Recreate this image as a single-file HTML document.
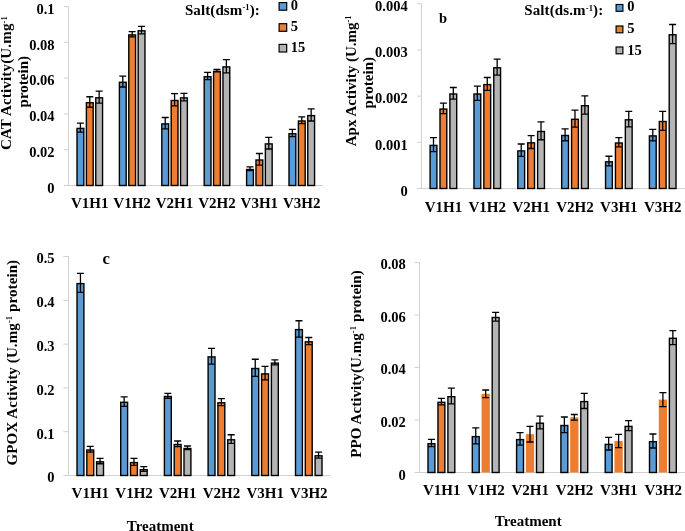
<!DOCTYPE html>
<html><head><meta charset="utf-8"><style>
html,body{margin:0;padding:0;background:#fff;}
body{width:685px;height:531px;overflow:hidden;}
svg{display:block;will-change:transform;}
.t{font-family:'Liberation Serif', serif;font-weight:bold;font-size:14.5px;fill:#000;}
.x{font-family:'Liberation Serif', serif;font-weight:bold;font-size:15px;fill:#000;}
.h{font-family:'Liberation Serif', serif;font-weight:bold;font-size:15px;fill:#000;}
</style></head><body>
<svg width="685" height="531" viewBox="0 0 685 531">
<rect width="685" height="531" fill="#fff"/>
<path d="M68.5 6.5V185.5M64 185.5H323" stroke="#d0d0d0" stroke-width="1" fill="none"/>
<path d="M64 149.7H68.5M64 113.9H68.5M64 78.1H68.5M64 42.3H68.5M64 6.5H68.5" stroke="#d0d0d0" stroke-width="1" fill="none"/>
<text x="54.5" y="192.8" text-anchor="end" class="t">0</text>
<text x="54.5" y="157" text-anchor="end" class="t">0.02</text>
<text x="54.5" y="121.2" text-anchor="end" class="t">0.04</text>
<text x="54.5" y="85.4" text-anchor="end" class="t">0.06</text>
<text x="54.5" y="49.6" text-anchor="end" class="t">0.08</text>
<text x="54.5" y="13.8" text-anchor="end" class="t">0.1</text>
<rect x="77" y="128.4" width="6.8" height="57.1" fill="#5b9bd5" stroke="#000" stroke-width="1.4"/>
<path d="M80.4 123.2V132.2M76.9 123.2H83.9M76.9 132.2H83.9" stroke="#000" stroke-width="1.3" fill="none"/>
<rect x="86.38" y="102.7" width="6.8" height="82.8" fill="#ed7d31" stroke="#000" stroke-width="1.4"/>
<path d="M89.78 96.75V107.25M86.28 96.75H93.28M86.28 107.25H93.28" stroke="#000" stroke-width="1.3" fill="none"/>
<rect x="95.76" y="97.8" width="6.8" height="87.7" fill="#b4b4b4" stroke="#000" stroke-width="1.4"/>
<path d="M99.16 91.1V103.1M95.66 91.1H102.66M95.66 103.1H102.66" stroke="#000" stroke-width="1.3" fill="none"/>
<rect x="119.4" y="82.3" width="6.8" height="103.2" fill="#5b9bd5" stroke="#000" stroke-width="1.4"/>
<path d="M122.8 76.2V87M119.3 76.2H126.3M119.3 87H126.3" stroke="#000" stroke-width="1.3" fill="none"/>
<rect x="128.78" y="34.9" width="6.8" height="150.6" fill="#ed7d31" stroke="#000" stroke-width="1.4"/>
<path d="M132.18 31.55V36.85M128.68 31.55H135.68M128.68 36.85H135.68" stroke="#000" stroke-width="1.3" fill="none"/>
<rect x="138.16" y="30.8" width="6.8" height="154.7" fill="#b4b4b4" stroke="#000" stroke-width="1.4"/>
<path d="M141.56 26.3V33.9M138.06 26.3H145.06M138.06 33.9H145.06" stroke="#000" stroke-width="1.3" fill="none"/>
<rect x="161.8" y="123.9" width="6.8" height="61.6" fill="#5b9bd5" stroke="#000" stroke-width="1.4"/>
<path d="M165.2 117.5V128.9M161.7 117.5H168.7M161.7 128.9H168.7" stroke="#000" stroke-width="1.3" fill="none"/>
<rect x="171.18" y="100.5" width="6.8" height="85" fill="#ed7d31" stroke="#000" stroke-width="1.4"/>
<path d="M174.58 93.7V105.9M171.08 93.7H178.08M171.08 105.9H178.08" stroke="#000" stroke-width="1.3" fill="none"/>
<rect x="180.56" y="97.9" width="6.8" height="87.6" fill="#b4b4b4" stroke="#000" stroke-width="1.4"/>
<path d="M183.96 93.45V100.95M180.46 93.45H187.46M180.46 100.95H187.46" stroke="#000" stroke-width="1.3" fill="none"/>
<rect x="204.2" y="76.7" width="6.8" height="108.8" fill="#5b9bd5" stroke="#000" stroke-width="1.4"/>
<path d="M207.6 72.45V79.55M204.1 72.45H211.1M204.1 79.55H211.1" stroke="#000" stroke-width="1.3" fill="none"/>
<rect x="213.58" y="71.3" width="6.8" height="114.2" fill="#ed7d31" stroke="#000" stroke-width="1.4"/>
<path d="M216.98 69.35V71.85M213.48 69.35H220.48M213.48 71.85H220.48" stroke="#000" stroke-width="1.3" fill="none"/>
<rect x="222.96" y="66.9" width="6.8" height="118.6" fill="#b4b4b4" stroke="#000" stroke-width="1.4"/>
<path d="M226.36 59.6V72.8M222.86 59.6H229.86M222.86 72.8H229.86" stroke="#000" stroke-width="1.3" fill="none"/>
<rect x="246.6" y="169.5" width="6.8" height="16" fill="#5b9bd5" stroke="#000" stroke-width="1.4"/>
<path d="M250 166.95V170.65M246.5 166.95H253.5M246.5 170.65H253.5" stroke="#000" stroke-width="1.3" fill="none"/>
<rect x="255.98" y="160" width="6.8" height="25.5" fill="#ed7d31" stroke="#000" stroke-width="1.4"/>
<path d="M259.38 153.5V165.1M255.88 153.5H262.88M255.88 165.1H262.88" stroke="#000" stroke-width="1.3" fill="none"/>
<rect x="265.36" y="143.9" width="6.8" height="41.6" fill="#b4b4b4" stroke="#000" stroke-width="1.4"/>
<path d="M268.76 137.4V149M265.26 137.4H272.26M265.26 149H272.26" stroke="#000" stroke-width="1.3" fill="none"/>
<rect x="289" y="133.7" width="6.8" height="51.8" fill="#5b9bd5" stroke="#000" stroke-width="1.4"/>
<path d="M292.4 129.45V136.55M288.9 129.45H295.9M288.9 136.55H295.9" stroke="#000" stroke-width="1.3" fill="none"/>
<rect x="298.38" y="121" width="6.8" height="64.5" fill="#ed7d31" stroke="#000" stroke-width="1.4"/>
<path d="M301.78 116.95V123.65M298.28 116.95H305.28M298.28 123.65H305.28" stroke="#000" stroke-width="1.3" fill="none"/>
<rect x="307.76" y="115.6" width="6.8" height="69.9" fill="#b4b4b4" stroke="#000" stroke-width="1.4"/>
<path d="M311.16 108.8V121M307.66 108.8H314.66M307.66 121H314.66" stroke="#000" stroke-width="1.3" fill="none"/>
<text x="89.7" y="208.4" text-anchor="middle" class="x">V1H1</text>
<text x="132.1" y="208.4" text-anchor="middle" class="x">V1H2</text>
<text x="174.5" y="208.4" text-anchor="middle" class="x">V2H1</text>
<text x="216.9" y="208.4" text-anchor="middle" class="x">V2H2</text>
<text x="259.3" y="208.4" text-anchor="middle" class="x">V3H1</text>
<text x="301.7" y="208.4" text-anchor="middle" class="x">V3H2</text>
<path d="M421.5 3.7V188.5M417 188.5H685" stroke="#d0d0d0" stroke-width="1" fill="none"/>
<path d="M417 142.3H421.5M417 96.1H421.5M417 49.9H421.5M417 3.7H421.5" stroke="#d0d0d0" stroke-width="1" fill="none"/>
<text x="407.7" y="195.8" text-anchor="end" class="t">0</text>
<text x="407.7" y="149.6" text-anchor="end" class="t">0.001</text>
<text x="407.7" y="103.4" text-anchor="end" class="t">0.002</text>
<text x="407.7" y="57.2" text-anchor="end" class="t">0.003</text>
<text x="407.7" y="11" text-anchor="end" class="t">0.004</text>
<rect x="430.1" y="145.4" width="6.8" height="43.1" fill="#5b9bd5" stroke="#000" stroke-width="1.4"/>
<path d="M433.5 137.7V151.7M430 137.7H437M430 151.7H437" stroke="#000" stroke-width="1.3" fill="none"/>
<rect x="440" y="109.1" width="6.8" height="79.4" fill="#ed7d31" stroke="#000" stroke-width="1.4"/>
<path d="M443.4 103.1V113.7M439.9 103.1H446.9M439.9 113.7H446.9" stroke="#000" stroke-width="1.3" fill="none"/>
<rect x="449.9" y="94" width="6.8" height="94.5" fill="#b4b4b4" stroke="#000" stroke-width="1.4"/>
<path d="M453.3 87.5V99.1M449.8 87.5H456.8M449.8 99.1H456.8" stroke="#000" stroke-width="1.3" fill="none"/>
<rect x="473.96" y="94" width="6.8" height="94.5" fill="#5b9bd5" stroke="#000" stroke-width="1.4"/>
<path d="M477.36 86.15V100.45M473.86 86.15H480.86M473.86 100.45H480.86" stroke="#000" stroke-width="1.3" fill="none"/>
<rect x="483.86" y="84.6" width="6.8" height="103.9" fill="#ed7d31" stroke="#000" stroke-width="1.4"/>
<path d="M487.26 77.5V90.3M483.76 77.5H490.76M483.76 90.3H490.76" stroke="#000" stroke-width="1.3" fill="none"/>
<rect x="493.76" y="67.8" width="6.8" height="120.7" fill="#b4b4b4" stroke="#000" stroke-width="1.4"/>
<path d="M497.16 59.15V75.05M493.66 59.15H500.66M493.66 75.05H500.66" stroke="#000" stroke-width="1.3" fill="none"/>
<rect x="517.82" y="150.9" width="6.8" height="37.6" fill="#5b9bd5" stroke="#000" stroke-width="1.4"/>
<path d="M521.22 144V156.4M517.72 144H524.72M517.72 156.4H524.72" stroke="#000" stroke-width="1.3" fill="none"/>
<rect x="527.72" y="142.8" width="6.8" height="45.7" fill="#ed7d31" stroke="#000" stroke-width="1.4"/>
<path d="M531.12 135.7V148.5M527.62 135.7H534.62M527.62 148.5H534.62" stroke="#000" stroke-width="1.3" fill="none"/>
<rect x="537.62" y="131.5" width="6.8" height="57" fill="#b4b4b4" stroke="#000" stroke-width="1.4"/>
<path d="M541.02 121.85V139.75M537.52 121.85H544.52M537.52 139.75H544.52" stroke="#000" stroke-width="1.3" fill="none"/>
<rect x="561.68" y="135.5" width="6.8" height="53" fill="#5b9bd5" stroke="#000" stroke-width="1.4"/>
<path d="M565.08 128.85V140.75M561.58 128.85H568.58M561.58 140.75H568.58" stroke="#000" stroke-width="1.3" fill="none"/>
<rect x="571.58" y="119.3" width="6.8" height="69.2" fill="#ed7d31" stroke="#000" stroke-width="1.4"/>
<path d="M574.98 110.1V127.1M571.48 110.1H578.48M571.48 127.1H578.48" stroke="#000" stroke-width="1.3" fill="none"/>
<rect x="581.48" y="105.7" width="6.8" height="82.8" fill="#b4b4b4" stroke="#000" stroke-width="1.4"/>
<path d="M584.88 95.8V114.2M581.38 95.8H588.38M581.38 114.2H588.38" stroke="#000" stroke-width="1.3" fill="none"/>
<rect x="605.54" y="161.8" width="6.8" height="26.7" fill="#5b9bd5" stroke="#000" stroke-width="1.4"/>
<path d="M608.94 156.25V165.95M605.44 156.25H612.44M605.44 165.95H612.44" stroke="#000" stroke-width="1.3" fill="none"/>
<rect x="615.44" y="143" width="6.8" height="45.5" fill="#ed7d31" stroke="#000" stroke-width="1.4"/>
<path d="M618.84 137.65V146.95M615.34 137.65H622.34M615.34 146.95H622.34" stroke="#000" stroke-width="1.3" fill="none"/>
<rect x="625.34" y="119.8" width="6.8" height="68.7" fill="#b4b4b4" stroke="#000" stroke-width="1.4"/>
<path d="M628.74 111.3V126.9M625.24 111.3H632.24M625.24 126.9H632.24" stroke="#000" stroke-width="1.3" fill="none"/>
<rect x="649.4" y="135.9" width="6.8" height="52.6" fill="#5b9bd5" stroke="#000" stroke-width="1.4"/>
<path d="M652.8 129.45V140.95M649.3 129.45H656.3M649.3 140.95H656.3" stroke="#000" stroke-width="1.3" fill="none"/>
<rect x="659.3" y="121.5" width="6.8" height="67" fill="#ed7d31" stroke="#000" stroke-width="1.4"/>
<path d="M662.7 111.3V130.3M659.2 111.3H666.2M659.2 130.3H666.2" stroke="#000" stroke-width="1.3" fill="none"/>
<rect x="669.2" y="34.8" width="6.8" height="153.7" fill="#b4b4b4" stroke="#000" stroke-width="1.4"/>
<path d="M672.6 24.5V43.7M669.1 24.5H676.1M669.1 43.7H676.1" stroke="#000" stroke-width="1.3" fill="none"/>
<text x="443.43" y="211.8" text-anchor="middle" class="x">V1H1</text>
<text x="487.29" y="211.8" text-anchor="middle" class="x">V1H2</text>
<text x="531.15" y="211.8" text-anchor="middle" class="x">V2H1</text>
<text x="575.01" y="211.8" text-anchor="middle" class="x">V2H2</text>
<text x="618.87" y="211.8" text-anchor="middle" class="x">V3H1</text>
<text x="662.73" y="211.8" text-anchor="middle" class="x">V3H2</text>
<path d="M68.5 256.5V475.5M63.3 475.5H330.5" stroke="#d0d0d0" stroke-width="1" fill="none"/>
<path d="M63.3 431.7H68.5M63.3 387.9H68.5M63.3 344.1H68.5M63.3 300.3H68.5M63.3 256.5H68.5" stroke="#d0d0d0" stroke-width="1" fill="none"/>
<text x="54.5" y="482.3" text-anchor="end" class="t">0</text>
<text x="54.5" y="438.5" text-anchor="end" class="t">0.1</text>
<text x="54.5" y="394.7" text-anchor="end" class="t">0.2</text>
<text x="54.5" y="350.9" text-anchor="end" class="t">0.3</text>
<text x="54.5" y="307.1" text-anchor="end" class="t">0.4</text>
<text x="54.5" y="263.3" text-anchor="end" class="t">0.5</text>
<rect x="77" y="283.6" width="6.9" height="191.9" fill="#5b9bd5" stroke="#000" stroke-width="1.4"/>
<path d="M80.45 273.4V292.4M76.95 273.4H83.95M76.95 292.4H83.95" stroke="#000" stroke-width="1.3" fill="none"/>
<rect x="86.8" y="450" width="6.9" height="25.5" fill="#ed7d31" stroke="#000" stroke-width="1.4"/>
<path d="M90.25 446.45V452.15M86.75 446.45H93.75M86.75 452.15H93.75" stroke="#000" stroke-width="1.3" fill="none"/>
<rect x="96.6" y="461.8" width="6.9" height="13.7" fill="#b4b4b4" stroke="#000" stroke-width="1.4"/>
<path d="M100.05 458.45V463.75M96.55 458.45H103.55M96.55 463.75H103.55" stroke="#000" stroke-width="1.3" fill="none"/>
<rect x="120.7" y="402.3" width="6.9" height="73.2" fill="#5b9bd5" stroke="#000" stroke-width="1.4"/>
<path d="M124.15 396.9V406.3M120.65 396.9H127.65M120.65 406.3H127.65" stroke="#000" stroke-width="1.3" fill="none"/>
<rect x="130.5" y="462.6" width="6.9" height="12.9" fill="#ed7d31" stroke="#000" stroke-width="1.4"/>
<path d="M133.95 458.4V465.4M130.45 458.4H137.45M130.45 465.4H137.45" stroke="#000" stroke-width="1.3" fill="none"/>
<rect x="140.3" y="469.7" width="6.9" height="5.8" fill="#b4b4b4" stroke="#000" stroke-width="1.4"/>
<path d="M143.75 466.65V471.35M140.25 466.65H147.25M140.25 471.35H147.25" stroke="#000" stroke-width="1.3" fill="none"/>
<rect x="164.4" y="396.5" width="6.9" height="79" fill="#5b9bd5" stroke="#000" stroke-width="1.4"/>
<path d="M167.85 393.3V398.3M164.35 393.3H171.35M164.35 398.3H171.35" stroke="#000" stroke-width="1.3" fill="none"/>
<rect x="174.2" y="444.5" width="6.9" height="31" fill="#ed7d31" stroke="#000" stroke-width="1.4"/>
<path d="M177.65 441V446.6M174.15 441H181.15M174.15 446.6H181.15" stroke="#000" stroke-width="1.3" fill="none"/>
<rect x="184" y="448.5" width="6.9" height="27" fill="#b4b4b4" stroke="#000" stroke-width="1.4"/>
<path d="M187.45 446V449.6M183.95 446H190.95M183.95 449.6H190.95" stroke="#000" stroke-width="1.3" fill="none"/>
<rect x="208.1" y="356.9" width="6.9" height="118.6" fill="#5b9bd5" stroke="#000" stroke-width="1.4"/>
<path d="M211.55 348.3V364.1M208.05 348.3H215.05M208.05 364.1H215.05" stroke="#000" stroke-width="1.3" fill="none"/>
<rect x="217.9" y="402.8" width="6.9" height="72.7" fill="#ed7d31" stroke="#000" stroke-width="1.4"/>
<path d="M221.35 398.55V405.65M217.85 398.55H224.85M217.85 405.65H224.85" stroke="#000" stroke-width="1.3" fill="none"/>
<rect x="227.7" y="439.8" width="6.9" height="35.7" fill="#b4b4b4" stroke="#000" stroke-width="1.4"/>
<path d="M231.15 434.75V443.45M227.65 434.75H234.65M227.65 443.45H234.65" stroke="#000" stroke-width="1.3" fill="none"/>
<rect x="251.8" y="368.5" width="6.9" height="107" fill="#5b9bd5" stroke="#000" stroke-width="1.4"/>
<path d="M255.25 359.25V376.35M251.75 359.25H258.75M251.75 376.35H258.75" stroke="#000" stroke-width="1.3" fill="none"/>
<rect x="261.6" y="373.9" width="6.9" height="101.6" fill="#ed7d31" stroke="#000" stroke-width="1.4"/>
<path d="M265.05 366.45V379.95M261.55 366.45H268.55M261.55 379.95H268.55" stroke="#000" stroke-width="1.3" fill="none"/>
<rect x="271.4" y="363.1" width="6.9" height="112.4" fill="#b4b4b4" stroke="#000" stroke-width="1.4"/>
<path d="M274.85 359.85V364.95M271.35 359.85H278.35M271.35 364.95H278.35" stroke="#000" stroke-width="1.3" fill="none"/>
<rect x="295.5" y="329.6" width="6.9" height="145.9" fill="#5b9bd5" stroke="#000" stroke-width="1.4"/>
<path d="M298.95 320.75V337.05M295.45 320.75H302.45M295.45 337.05H302.45" stroke="#000" stroke-width="1.3" fill="none"/>
<rect x="305.3" y="341.8" width="6.9" height="133.7" fill="#ed7d31" stroke="#000" stroke-width="1.4"/>
<path d="M308.75 337.5V344.7M305.25 337.5H312.25M305.25 344.7H312.25" stroke="#000" stroke-width="1.3" fill="none"/>
<rect x="315.1" y="455.8" width="6.9" height="19.7" fill="#b4b4b4" stroke="#000" stroke-width="1.4"/>
<path d="M318.55 452.05V458.15M315.05 452.05H322.05M315.05 458.15H322.05" stroke="#000" stroke-width="1.3" fill="none"/>
<text x="90.35" y="497.6" text-anchor="middle" class="x">V1H1</text>
<text x="134.05" y="497.6" text-anchor="middle" class="x">V1H2</text>
<text x="177.75" y="497.6" text-anchor="middle" class="x">V2H1</text>
<text x="221.45" y="497.6" text-anchor="middle" class="x">V2H2</text>
<text x="265.15" y="497.6" text-anchor="middle" class="x">V3H1</text>
<text x="308.85" y="497.6" text-anchor="middle" class="x">V3H2</text>
<path d="M419.5 262.4V472.5M414.5 472.5H685" stroke="#d0d0d0" stroke-width="1" fill="none"/>
<path d="M414.5 419.98H419.5M414.5 367.45H419.5M414.5 314.92H419.5M414.5 262.4H419.5" stroke="#d0d0d0" stroke-width="1" fill="none"/>
<text x="405.8" y="479.5" text-anchor="end" class="t">0</text>
<text x="405.8" y="426.98" text-anchor="end" class="t">0.02</text>
<text x="405.8" y="374.45" text-anchor="end" class="t">0.04</text>
<text x="405.8" y="321.92" text-anchor="end" class="t">0.06</text>
<text x="405.8" y="269.4" text-anchor="end" class="t">0.08</text>
<rect x="428" y="443.7" width="6.9" height="28.8" fill="#5b9bd5" stroke="#000" stroke-width="1.4"/>
<path d="M431.45 439.45V446.55M427.95 439.45H434.95M427.95 446.55H434.95" stroke="#000" stroke-width="1.3" fill="none"/>
<rect x="437.95" y="402.3" width="6.9" height="70.2" fill="#ed7d31" stroke="#000" stroke-width="1.4"/>
<path d="M441.4 398.4V404.8M437.9 398.4H444.9M437.9 404.8H444.9" stroke="#000" stroke-width="1.3" fill="none"/>
<rect x="447.9" y="396.7" width="6.9" height="75.8" fill="#b4b4b4" stroke="#000" stroke-width="1.4"/>
<path d="M451.35 388.1V403.9M447.85 388.1H454.85M447.85 403.9H454.85" stroke="#000" stroke-width="1.3" fill="none"/>
<rect x="472.3" y="436.6" width="6.9" height="35.9" fill="#5b9bd5" stroke="#000" stroke-width="1.4"/>
<path d="M475.75 427.9V443.9M472.25 427.9H479.25M472.25 443.9H479.25" stroke="#000" stroke-width="1.3" fill="none"/>
<rect x="481.55" y="393.8" width="8.3" height="78.7" fill="#ed7d31"/>
<path d="M485.7 390V397.6M482.2 390H489.2M482.2 397.6H489.2" stroke="#000" stroke-width="1.3" fill="none"/>
<rect x="492.2" y="317.5" width="6.9" height="155" fill="#b4b4b4" stroke="#000" stroke-width="1.4"/>
<path d="M495.65 312.45V321.15M492.15 312.45H499.15M492.15 321.15H499.15" stroke="#000" stroke-width="1.3" fill="none"/>
<rect x="516.6" y="439.6" width="6.9" height="32.9" fill="#5b9bd5" stroke="#000" stroke-width="1.4"/>
<path d="M520.05 432.6V445.2M516.55 432.6H523.55M516.55 445.2H523.55" stroke="#000" stroke-width="1.3" fill="none"/>
<rect x="525.85" y="434.2" width="8.3" height="38.3" fill="#ed7d31"/>
<path d="M530 426.4V442M526.5 426.4H533.5M526.5 442H533.5" stroke="#000" stroke-width="1.3" fill="none"/>
<rect x="536.5" y="423.2" width="6.9" height="49.3" fill="#b4b4b4" stroke="#000" stroke-width="1.4"/>
<path d="M539.95 416.15V428.85M536.45 416.15H543.45M536.45 428.85H543.45" stroke="#000" stroke-width="1.3" fill="none"/>
<rect x="560.9" y="425.5" width="6.9" height="47" fill="#5b9bd5" stroke="#000" stroke-width="1.4"/>
<path d="M564.35 417V432.6M560.85 417H567.85M560.85 432.6H567.85" stroke="#000" stroke-width="1.3" fill="none"/>
<rect x="570.15" y="417.3" width="8.3" height="55.2" fill="#ed7d31"/>
<path d="M574.3 414.5V420.1M570.8 414.5H577.8M570.8 420.1H577.8" stroke="#000" stroke-width="1.3" fill="none"/>
<rect x="580.8" y="401.6" width="6.9" height="70.9" fill="#b4b4b4" stroke="#000" stroke-width="1.4"/>
<path d="M584.25 393.3V408.5M580.75 393.3H587.75M580.75 408.5H587.75" stroke="#000" stroke-width="1.3" fill="none"/>
<rect x="605.2" y="444.4" width="6.9" height="28.1" fill="#5b9bd5" stroke="#000" stroke-width="1.4"/>
<path d="M608.65 437.4V450M605.15 437.4H612.15M605.15 450H612.15" stroke="#000" stroke-width="1.3" fill="none"/>
<rect x="614.45" y="441" width="8.3" height="31.5" fill="#ed7d31"/>
<path d="M618.6 434.4V447.6M615.1 434.4H622.1M615.1 447.6H622.1" stroke="#000" stroke-width="1.3" fill="none"/>
<rect x="625.1" y="426.4" width="6.9" height="46.1" fill="#b4b4b4" stroke="#000" stroke-width="1.4"/>
<path d="M628.55 420.7V430.7M625.05 420.7H632.05M625.05 430.7H632.05" stroke="#000" stroke-width="1.3" fill="none"/>
<rect x="649.5" y="441.7" width="6.9" height="30.8" fill="#5b9bd5" stroke="#000" stroke-width="1.4"/>
<path d="M652.95 434V448M649.45 434H656.45M649.45 448H656.45" stroke="#000" stroke-width="1.3" fill="none"/>
<rect x="658.75" y="399.6" width="8.3" height="72.9" fill="#ed7d31"/>
<path d="M662.9 392.6V406.6M659.4 392.6H666.4M659.4 406.6H666.4" stroke="#000" stroke-width="1.3" fill="none"/>
<rect x="669.4" y="338.3" width="6.9" height="134.2" fill="#b4b4b4" stroke="#000" stroke-width="1.4"/>
<path d="M672.85 330.6V344.6M669.35 330.6H676.35M669.35 344.6H676.35" stroke="#000" stroke-width="1.3" fill="none"/>
<text x="441.65" y="495.4" text-anchor="middle" class="x">V1H1</text>
<text x="485.95" y="495.4" text-anchor="middle" class="x">V1H2</text>
<text x="530.25" y="495.4" text-anchor="middle" class="x">V2H1</text>
<text x="574.55" y="495.4" text-anchor="middle" class="x">V2H2</text>
<text x="618.85" y="495.4" text-anchor="middle" class="x">V3H1</text>
<text x="663.15" y="495.4" text-anchor="middle" class="x">V3H2</text>
<text transform="translate(11.4 83) rotate(-90)" text-anchor="middle" class="h" letter-spacing="0.18">CAT Activity(U.mg<tspan font-size="8.5" dy="-4.6">-1</tspan><tspan dy="4.6"></tspan></text>
<text transform="translate(28 81.7) rotate(-90)" text-anchor="middle" class="h">protein)</text>
<text transform="translate(355.8 80.8) rotate(-90)" text-anchor="middle" class="h">Apx Activity (U.mg<tspan font-size="8.5" dy="-4.6">-1</tspan><tspan dy="4.6"></tspan></text>
<text transform="translate(372.8 82.7) rotate(-90)" text-anchor="middle" class="h">protein)</text>
<text transform="translate(16.8 362.6) rotate(-90)" text-anchor="middle" class="h" letter-spacing="0.1">GPOX Activity (U.mg<tspan font-size="8.5" dy="-4.6">-1</tspan><tspan dy="4.6"> protein)</tspan></text>
<text transform="translate(360.5 363.9) rotate(-90)" text-anchor="middle" class="h" letter-spacing="0.07">PPO Activity(U.mg<tspan font-size="8.5" dy="-4.6">-1</tspan><tspan dy="4.6"> protein)</tspan></text>
<text x="160.2" y="530.5" text-anchor="middle" class="h">Treatment</text>
<text x="528.2" y="525.9" text-anchor="middle" class="h">Treatment</text>
<text x="438.9" y="22.9" class="t">b</text>
<text x="102.5" y="263.9" class="h" style="font-size:16.5px">c</text>
<text x="184.9" y="14.9" class="h" letter-spacing="0.1">Salt(dsm<tspan font-size="8.5" dy="-4.6">-1</tspan><tspan dy="4.6">):</tspan></text>
<text x="524.2" y="15.4" class="h" letter-spacing="0.12">Salt(ds.m<tspan font-size="8.5" dy="-4.6">-1</tspan><tspan dy="4.6">):</tspan></text>
<rect x="279.1" y="2.6" width="7.6" height="7.6" fill="#5b9bd5" stroke="#000" stroke-width="1.2"/>
<text x="290.7" y="10.4" class="t">0</text>
<rect x="279.1" y="23.7" width="7.6" height="7.6" fill="#ed7d31" stroke="#000" stroke-width="1.2"/>
<text x="290.7" y="31.3" class="t">5</text>
<rect x="279.1" y="44.4" width="7.6" height="7.6" fill="#b4b4b4" stroke="#000" stroke-width="1.2"/>
<text x="290.7" y="52.2" class="t">15</text>
<rect x="616.1" y="4.5" width="6.8" height="6.8" fill="#5b9bd5" stroke="#000" stroke-width="1.2"/>
<text x="627.2" y="11.3" class="t">0</text>
<rect x="616.1" y="26" width="6.8" height="6.8" fill="#ed7d31" stroke="#000" stroke-width="1.2"/>
<text x="627.2" y="33.3" class="t">5</text>
<rect x="616.1" y="47" width="6.8" height="6.8" fill="#b4b4b4" stroke="#000" stroke-width="1.2"/>
<text x="627.2" y="54.8" class="t">15</text>
</svg>
</body></html>
